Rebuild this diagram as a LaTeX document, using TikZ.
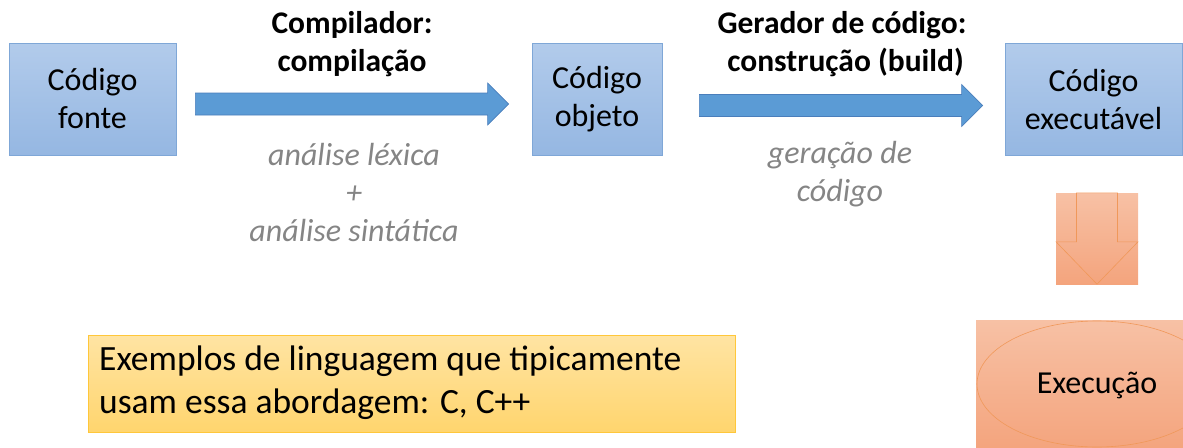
\documentclass[tikz,border=0pt]{standalone}
\usepackage{fontspec}
\setmainfont{Carlito}
\usetikzlibrary{shapes.geometric,shadings,calc}
\definecolor{bluetop}{HTML}{B2CBEB}
\definecolor{bluebot}{HTML}{95B7E2}
\definecolor{blueline}{HTML}{7FA7D7}
\definecolor{arrowfill}{HTML}{5B9BD5}
\definecolor{arrowline}{HTML}{4A7EBB}
\definecolor{graytxt}{HTML}{858585}
\definecolor{yeltop}{HTML}{FFE4A3}
\definecolor{yelbot}{HTML}{FFD56E}
\definecolor{yelline}{HTML}{FFC73A}
\definecolor{ortop}{HTML}{F7C1A5}
\definecolor{orbot}{HTML}{F4A47D}
\definecolor{orline}{HTML}{F0985A}
\tikzset{
  codebox/.style={draw=blueline, line width=0.8pt, top color=bluetop, bottom color=bluebot,
    align=center, inner sep=0pt, font=\fontsize{32}{38}\selectfont},
  bigarrow/.style={draw=arrowline, line width=0.6pt, fill=arrowfill, line join=miter},
  boldlbl/.style={align=center, inner sep=0pt, font=\bfseries\fontsize{31.5}{38}\selectfont},
  graylbl/.style={align=center, inner sep=0pt, text=graytxt, font=\itshape\fontsize{32}{38}\selectfont},
  orbg/.style={draw=none, top color=ortop, bottom color=orbot, inner sep=0pt},
}
\begin{document}
\begin{tikzpicture}[x=1pt,y=-1pt]
\useasboundingbox (0,0) rectangle (1183,447);
\clip (0,0) rectangle (1183,447);
% boxes
\node[codebox, minimum width=167, minimum height=112] (src) at (92.5,99) {Código\\fonte};
\node[codebox, minimum width=130, minimum height=112] (obj) at (597,99) {Código\\objeto};
\node[codebox, minimum width=177, minimum height=112] (exe) at (1093.5,99.5) {Código\\executável};
% arrow connectors
\coordinate (a1s) at ($(src.east)+(19,5)$);
\coordinate (a1e) at ($(obj.west)+(-23,5)$);
\draw[bigarrow] ($(a1s)+(0,-11)$) -- ($(a1e)+(-21,-11)$) -- ($(a1e)+(-21,-21)$) -- (a1e)
  -- ($(a1e)+(-21,21)$) -- ($(a1e)+(-21,11)$) -- ($(a1s)+(0,11)$) -- cycle;
\coordinate (a2s) at ($(obj.east)+(37,6.5)$);
\coordinate (a2e) at ($(exe.west)+(-22,6)$);
\draw[bigarrow] ($(a2s)+(0,-11)$) -- ($(a2e)+(-21,-11)$) -- ($(a2e)+(-21,-21)$) -- (a2e)
  -- ($(a2e)+(-21,21)$) -- ($(a2e)+(-21,11)$) -- ($(a2s)+(0,11)$) -- cycle;
% labels
\node[boldlbl] (l1) at (352,44) {Compilador:\\compilação};
\node[boldlbl] (l2) at (842,44) {Gerador de código:\\\ construção (build)};
\node[graylbl] (g1) at (354,193) {análise léxica\\+\\análise sintática};
\node[graylbl] (g2) at (840,174) {geração de\\código};
% down arrow
\node[orbg, minimum width=82, minimum height=91] (dbg) at (1097,238.5) {};
\draw[draw=orline, line width=0.6pt, line join=miter]
  ($(dbg.north)+(-20.5,0)$) -- ($(dbg.north)+(20.5,0)$) -- ($(dbg.north)+(20.5,49)$)
  -- ($(dbg.north)+(41,49)$) -- (dbg.south) -- ($(dbg.north)+(-41,49)$)
  -- ($(dbg.north)+(-20.5,49)$) -- cycle;
% execution
\node[orbg, minimum width=214, minimum height=130] (runbg) at (1083,385) {};
\node[ellipse, draw=orline, line width=0.6pt, minimum width=240, minimum height=126, inner sep=0pt] (run) at (1097,384) {};
\node[inner sep=0pt, font=\fontsize{32}{38}\selectfont] (runtxt) at (1097,385) {Execução};
% examples
\node[draw=yelline, line width=0.8pt, top color=yeltop, bottom color=yelbot, minimum width=647, minimum height=97, inner sep=0pt] (exbox) at (411.5,383.5) {};
\node[anchor=west, align=left, inner sep=0pt, font=\fontsize{35.5}{43}\selectfont] (extxt) at (99,382.5) {Exemplos de linguagem que tipicamente\\usam essa abordagem: C, C++};
\end{tikzpicture}
\end{document}
